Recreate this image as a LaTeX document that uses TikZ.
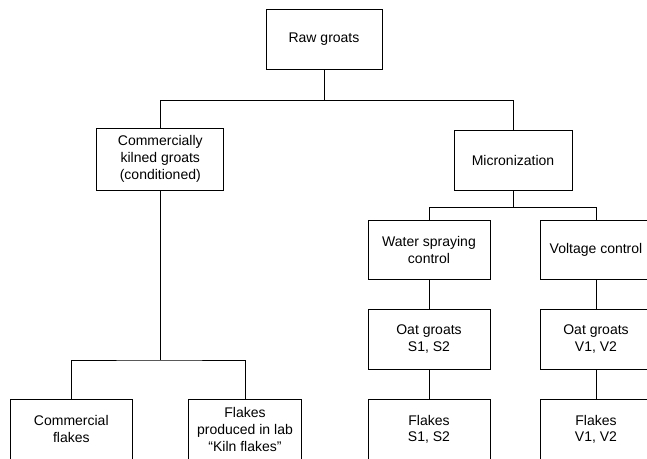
\documentclass[tikz,border=0pt]{standalone}
\usepackage{fontspec}
\setmainfont{Liberation Sans}
\begin{document}
\begin{tikzpicture}[x=1pt,y=-1pt,
  box/.style={draw,line width=0.8pt,inner sep=0pt,align=center,
    font=\fontsize{14pt}{16.7pt}\selectfont},
  link/.style={line width=0.8pt}]
\useasboundingbox (0,0) rectangle (647,458);
\node[box,minimum width=116pt,minimum height=60pt] (raw) at (324,39) {Raw groats};
\node[box,minimum width=127pt,minimum height=62pt] (ck) at (160.3,159) {Commercially\\kilned groats\\(conditioned)};
\node[box,minimum width=118pt,minimum height=60pt] (mic) at (513,160) {Micronization};
\node[box,minimum width=122pt,minimum height=59pt] (water) at (429,250) {Water spraying\\control};
\node[box,minimum width=112pt,minimum height=59pt] (volt) at (596,250) {Voltage control};
\node[box,minimum width=122pt,minimum height=60pt] (oatS) at (429,339.3) {Oat groats\\S1, S2};
\node[box,minimum width=112pt,minimum height=60pt] (oatV) at (596,339.3) {Oat groats\\V1, V2};
\node[box,minimum width=122pt,minimum height=60pt] (flS) at (429,429.3) {Flakes\\S1, S2};
\node[box,minimum width=112pt,minimum height=60pt] (flV) at (596,429.3) {Flakes\\V1, V2};
\node[box,minimum width=122pt,minimum height=60pt] (cf) at (71.3,429.3) {Commercial\\flakes};
\node[box,minimum width=113pt,minimum height=60pt] (fl) at (245,429.3) {Flakes\\produced in lab\\``Kiln flakes''};
\coordinate (j1) at (324,100.5);
\coordinate (j2) at (513,207.3);
\coordinate (j3) at (160.3,360);
\draw[link] (raw.south) -- (j1);
\draw[link] (ck.north) |- (j1) -| (mic.north);
\draw[link] (mic.south) -- (j2);
\draw[link] (water.north) |- (j2) -| (volt.north);
\draw[link] (ck.south) -- (j3);
\draw[link] (cf.north) |- (j3) -| (fl.north);
\draw[link] (water) -- (oatS);
\draw[link] (oatS) -- (flS);
\draw[link] (volt) -- (oatV);
\draw[link] (oatV) -- (flV);
\end{tikzpicture}
\end{document}
